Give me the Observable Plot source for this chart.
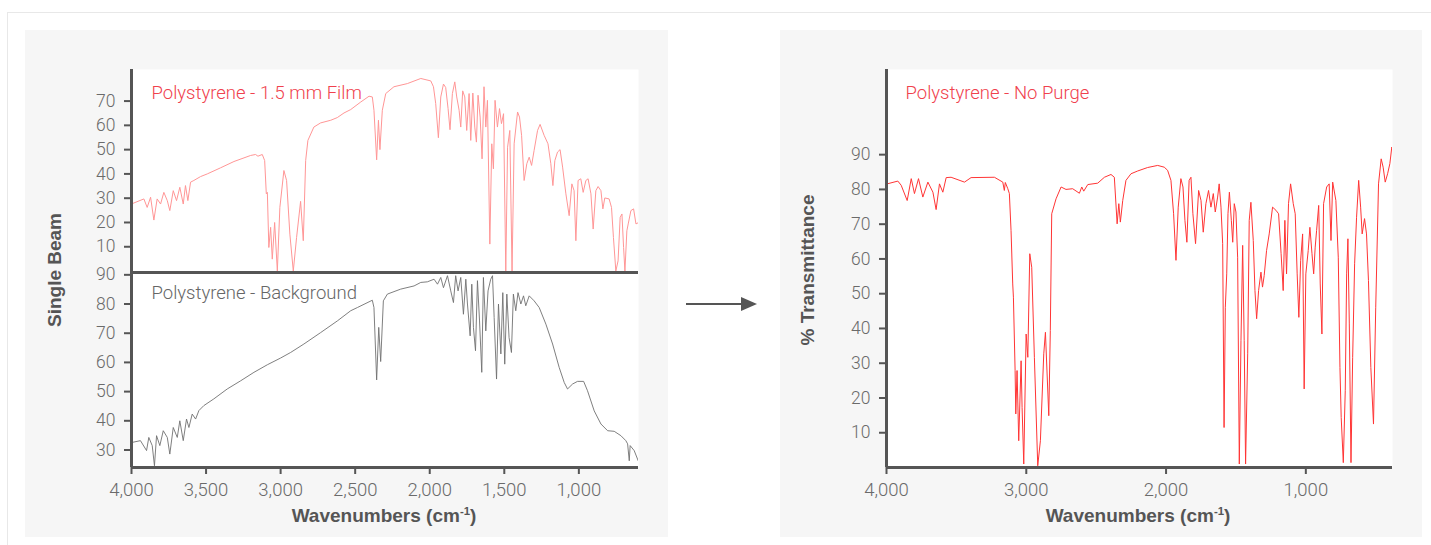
<!DOCTYPE html>
<html><head><meta charset="utf-8">
<script src="https://cdn.jsdelivr.net/npm/d3@7"></script>
<script src="https://cdn.jsdelivr.net/npm/@observablehq/plot@0.6"></script>
<style>
body{margin:0;background:#fff;}
#page{position:relative;width:1431px;height:545px;overflow:hidden;font-family:Roboto,"Liberation Sans",sans-serif;}
.panel{position:absolute;background:#f6f6f6;}
.abs{position:absolute;}
.title{position:absolute;font-family:"Liberation Sans",Arial,sans-serif;font-weight:700;font-size:19px;color:#555;white-space:nowrap;transform:translate(-50%,-50%);}
.title.rot{transform:translate(-50%,-50%) rotate(-90deg);}
.title sup{font-size:0.6em;}
</style></head><body>
<div id="page">
  <div class="abs" style="left:7px;top:12px;width:1430px;height:540px;border-top:1px solid #e8e8e8;border-left:1px solid #e8e8e8;"></div>
  <div class="panel" style="left:25px;top:30px;width:643px;height:507px"></div>
  <div class="panel" style="left:780px;top:30px;width:642px;height:507px"></div>
  <div id="lt" class="abs" style="left:25px;top:30px"></div>
  <div id="lb" class="abs" style="left:25px;top:272px"></div>
  <div id="rt" class="abs" style="left:780px;top:30px"></div>
  <div class="title rot" style="left:55px;top:270px">Single Beam</div>
  <div class="title rot" style="left:808px;top:270px">% Transmittance</div>
  <div class="title" style="left:384px;top:516px">Wavenumbers (cm<sup>-1</sup>)</div>
  <div class="title" style="left:1138px;top:516px">Wavenumbers (cm<sup>-1</sup>)</div>
  <svg class="abs" style="left:680px;top:294px" width="85" height="20">
    <line x1="6" y1="10" x2="66" y2="10" stroke="#555" stroke-width="2"/>
    <polygon points="77,10 61,3 61,17" fill="#555"/>
  </svg>
</div>
<script>
// ---- Data ----
const filmLabel = "Polystyrene - 1.5 mm Film";
const bgLabel = "Polystyrene - Background";
const purgeLabel = "Polystyrene - No Purge";

const leftXTicks = [4000, 3500, 3000, 2500, 2000, 1500, 1000];
const rightXTicks = [4000, 3000, 2000, 1000];
const filmYTicks = [10, 20, 30, 40, 50, 60, 70];
const bgYTicks = [30, 40, 50, 60, 70, 80, 90];
const purgeYTicks = [10, 20, 30, 40, 50, 60, 70, 80, 90];

const filmWn = [3989,3917,3895,3872,3850,3828,3805,3783,3760,3743,3720,3698,3676,3653,3638,3622,3604,3582,3537,3492,3403,3313,3201,3168,3152,3123,3107,3096,3089,3079,3067,3056,3040,3022,3005,2978,2960,2938,2915,2893,2866,2848,2832,2817,2777,2732,2664,2620,2575,2530,2463,2407,2385,2374,2356,2344,2334,2318,2295,2240,2150,2060,1993,1975,1960,1942,1926,1908,1893,1877,1864,1848,1832,1819,1803,1792,1779,1765,1752,1736,1725,1711,1698,1687,1676,1662,1649,1636,1624,1613,1597,1584,1573,1562,1546,1532,1519,1505,1490,1478,1463,1448,1434,1411,1398,1384,1367,1349,1333,1317,1300,1277,1260,1233,1207,1188,1174,1161,1143,1126,1109,1087,1065,1047,1032,1020,1005,987,971,953,938,919,904,886,871,852,839,826,797,781,768,752,737,723,711,700,691,678,669,651,633,617,599];
const filmVal = [27.9,29.7,26.2,30.4,21.0,29.7,27.6,32.4,29.0,24.9,33.1,29.0,34.5,27.6,35.2,29.0,36.6,37.3,38.9,40.0,42.5,45.1,47.6,48.0,47.3,48.0,45.5,31.8,32.4,9.7,18.0,4.9,20.0,0,26.2,41.4,37.3,15.2,0,13.8,28.7,12.5,45.5,53.8,59.3,61.0,62.1,63.2,65.1,66.5,69.6,72.0,71.7,66.2,45.8,62.1,50.0,66.2,73.1,75.9,77.2,79.3,78.3,75.9,69.0,54.9,71.7,77.0,75.6,66.9,58.2,73.1,77.9,71.7,66.2,59.3,74.2,71.7,57.9,73.1,53.8,73.3,59.3,53.1,72.4,63.4,46.2,75.9,59.3,70.3,11.1,52.4,42.1,70.3,59.3,66.9,60.7,64.8,0,51.0,57.9,0,52.4,65.5,63.4,55.9,37.3,44.2,46.9,43.5,49.7,57.9,60.4,55.9,52.4,44.2,35.2,45.5,49.0,50.0,42.8,31.8,22.8,35.9,33.1,12.5,37.3,38.0,32.4,37.3,38.0,31.8,17.3,33.1,34.8,33.1,25.6,30.1,29.7,26.2,13.8,0,4.2,22.1,23.5,9.7,0,16.6,19.4,24.9,25.6,19.4,20.0];

const bgWn = [3995,3940,3899,3884,3861,3846,3832,3810,3787,3760,3743,3720,3693,3676,3653,3631,3615,3593,3570,3548,3515,3448,3358,3268,3179,3089,3000,2933,2844,2732,2620,2530,2485,2385,2374,2356,2342,2329,2311,2284,2195,2105,2060,2016,1971,1948,1926,1908,1881,1859,1841,1826,1810,1792,1774,1758,1747,1729,1718,1707,1693,1680,1666,1651,1640,1624,1609,1591,1579,1568,1552,1539,1523,1510,1497,1483,1468,1452,1439,1423,1408,1389,1371,1356,1333,1300,1266,1221,1176,1132,1098,1076,1042,1009,968,942,897,852,807,763,718,685,673,662,656,629,602];
const bgVal = [32.6,33.2,29.8,34.3,31.5,24.6,34.9,31.5,36.6,34.3,28.6,37.7,34.3,40.0,33.2,40.6,37.7,42.3,40.6,43.5,45.2,47.5,50.9,53.7,56.6,59.2,61.5,63.4,66.3,70.2,74.2,77.7,78.8,81.3,78.8,54.0,72.0,60.3,81.1,83.4,85.1,86.2,87.4,87.6,88.5,86.8,89.1,85.6,89.7,84.5,80.5,89.7,84.5,89.1,76.5,88.5,80.0,69.1,86.8,72.0,64.0,88.0,74.2,56.6,89.1,70.8,84.5,88.5,89.7,75.4,54.3,80.0,62.9,83.9,59.4,83.4,68.5,63.4,83.4,77.7,83.9,80.0,82.8,79.4,82.8,81.1,78.8,73.1,66.3,58.3,53.1,50.9,52.6,53.5,53.5,50.3,43.4,38.9,36.6,36.4,34.9,33.2,32.1,26.3,31.5,29.8,26.3];

const purgeWn = [3995,3919,3895,3852,3823,3800,3771,3740,3704,3668,3645,3621,3597,3573,3538,3442,3395,3228,3168,3157,3150,3132,3121,3109,3097,3092,3080,3075,3066,3054,3037,3030,3018,3001,2989,2975,2961,2942,2918,2899,2875,2863,2851,2839,2828,2818,2787,2751,2716,2668,2620,2603,2589,2560,2489,2441,2394,2370,2350,2338,2327,2310,2287,2251,2203,2132,2060,2013,1989,1965,1946,1929,1913,1894,1879,1865,1851,1835,1822,1808,1789,1767,1750,1734,1715,1696,1679,1662,1648,1631,1620,1607,1595,1585,1576,1566,1557,1547,1533,1523,1512,1500,1488,1476,1464,1452,1441,1431,1416,1405,1393,1376,1364,1352,1338,1321,1310,1298,1281,1262,1238,1214,1195,1177,1162,1150,1138,1124,1109,1090,1076,1062,1050,1037,1023,1012,1000,983,971,956,944,933,923,908,897,885,873,851,833,820,808,785,768,756,747,732,718,708,699,689,677,665,651,637,622,608,597,580,566,552,535,516,500,480,461,447,432,415,399,385,380];
const purgeVal = [81.6,82.4,81.2,76.8,83.1,78.8,83.1,77.8,82.1,79.2,74.2,81.6,79.2,83.4,83.5,82.1,83.4,83.5,82.1,79.7,82.0,80.2,78.8,68.2,52.8,49.0,27.9,15.4,27.9,7.7,30.7,17.3,1.0,38.4,31.7,61.5,57.6,31.7,0.5,7.7,32.7,38.9,26.9,14.9,39.4,73.0,77.3,80.7,80.0,80.2,78.9,80.7,79.5,81.4,81.8,83.5,84.3,83.5,70.1,75.9,70.6,76.8,82.6,84.5,85.3,86.3,86.9,86.4,85.5,82.6,73.0,59.6,74.9,83.1,80.7,71.1,64.8,82.6,83.5,73.0,64.4,79.7,76.8,67.7,75.9,79.7,74.9,78.8,73.5,77.8,81.6,74.9,64.4,11.5,46.1,55.7,73.0,79.2,71.1,64.8,75.9,73.5,60.5,1.0,36.5,63.9,36.5,1.0,32.7,71.1,76.3,65.3,50.9,42.8,50.9,56.2,51.9,55.2,62.4,67.2,74.9,74.0,73.0,61.5,50.9,71.1,55.7,75.9,81.6,75.9,73.0,55.7,43.2,59.6,67.2,22.6,55.7,62.4,69.1,61.5,55.7,63.4,68.2,75.4,52.8,38.4,75.9,80.7,81.6,65.3,82.1,76.8,60.5,28.8,14.4,1.4,22.1,55.7,65.8,41.3,1.4,31.7,58.6,72.0,82.6,74.9,67.2,71.6,67.2,53.8,28.8,12.5,46.1,81.6,88.8,86.4,82.1,84.5,87.4,92.2,91.7];

// ---- Build ----
const film = filmWn.map((wn, i) => ({wn, v: filmVal[i]}));
const bg = bgWn.map((wn, i) => ({wn, v: bgVal[i]}));
const purge = purgeWn.map((wn, i) => ({wn, v: purgeVal[i]}));

const axisColor = "#555";
const tickText = "#6a6a6a";
const fontFam = "Roboto, 'Liberation Sans', sans-serif";
const baseStyle = {background: "transparent", fontFamily: fontFam, fontSize: "16px", overflow: "visible"};
const fmt = d3.format(",");
const yAxisOpts = {anchor: "left", tickSize: 7, tickPadding: 9, stroke: axisColor, strokeWidth: 2, fill: tickText, fontSize: 17.5, fontWeight: 300, label: null};
const xAxisOpts = {anchor: "bottom", tickSize: 7, tickPadding: 8, tickFormat: fmt, stroke: axisColor, strokeWidth: 2, fill: tickText, fontSize: 18.5, fontWeight: 300, label: null};
const labelOpts = {frameAnchor: "top-left", textAnchor: "start", lineAnchor: "top", fontSize: 18.5, fontWeight: 300};

const leftX = [4000, 600];
const filmY = [-0.6, 83];
const bgY = [24, 90.8];

const lt = Plot.plot({
  width: 643, height: 242,
  marginLeft: 106, marginRight: 30, marginTop: 39, marginBottom: 0,
  style: baseStyle,
  x: {domain: leftX, axis: null},
  y: {domain: filmY, axis: null},
  marks: [
    Plot.frame({fill: "white", stroke: null}),
    Plot.line(film, {x: "wn", y: "v", stroke: "#ff9696", strokeWidth: 1, clip: true}),
    Plot.axisY(filmYTicks, yAxisOpts),
    Plot.ruleX([leftX[0]], {stroke: axisColor, strokeWidth: 3}),
    Plot.ruleY([filmY[0]], {stroke: axisColor, strokeWidth: 3}),
    Plot.text([filmLabel], {...labelOpts, dx: 20, dy: 16, fill: "#f0414d"})
  ]
});
document.getElementById("lt").appendChild(lt);

const lb = Plot.plot({
  width: 643, height: 265,
  marginLeft: 106, marginRight: 30, marginTop: 0, marginBottom: 70,
  style: baseStyle,
  x: {domain: leftX, axis: null},
  y: {domain: bgY, axis: null},
  marks: [
    Plot.frame({fill: "white", stroke: null}),
    Plot.line(bg, {x: "wn", y: "v", stroke: "#707070", strokeWidth: 0.9, clip: true}),
    Plot.axisY(bgYTicks, yAxisOpts),
    Plot.axisX(leftXTicks, xAxisOpts),
    Plot.ruleX([leftX[0]], {stroke: axisColor, strokeWidth: 3}),
    Plot.ruleY([bgY[0]], {stroke: axisColor, strokeWidth: 3}),
    Plot.ruleY([bgY[1]], {stroke: axisColor, strokeWidth: 3}),
    Plot.text([bgLabel], {...labelOpts, dx: 20, dy: 13, fill: "#666"})
  ]
});
document.getElementById("lb").appendChild(lb);

const rightX = [4000, 380];
const purgeY = [0, 114.5];
const rt = Plot.plot({
  width: 642, height: 507,
  marginLeft: 106, marginRight: 30, marginTop: 39, marginBottom: 70,
  style: baseStyle,
  x: {domain: rightX, axis: null},
  y: {domain: purgeY, axis: null},
  marks: [
    Plot.frame({fill: "white", stroke: null}),
    Plot.line(purge, {x: "wn", y: "v", stroke: "#ff3535", strokeWidth: 1, clip: true}),
    Plot.axisY(purgeYTicks, yAxisOpts),
    Plot.axisX(rightXTicks, xAxisOpts),
    Plot.ruleX([rightX[0]], {stroke: axisColor, strokeWidth: 3}),
    Plot.ruleY([purgeY[0]], {stroke: axisColor, strokeWidth: 3}),
    Plot.text([purgeLabel], {...labelOpts, dx: 19, dy: 16, fill: "#f0414d"})
  ]
});
document.getElementById("rt").appendChild(rt);
</script>
</body></html>
